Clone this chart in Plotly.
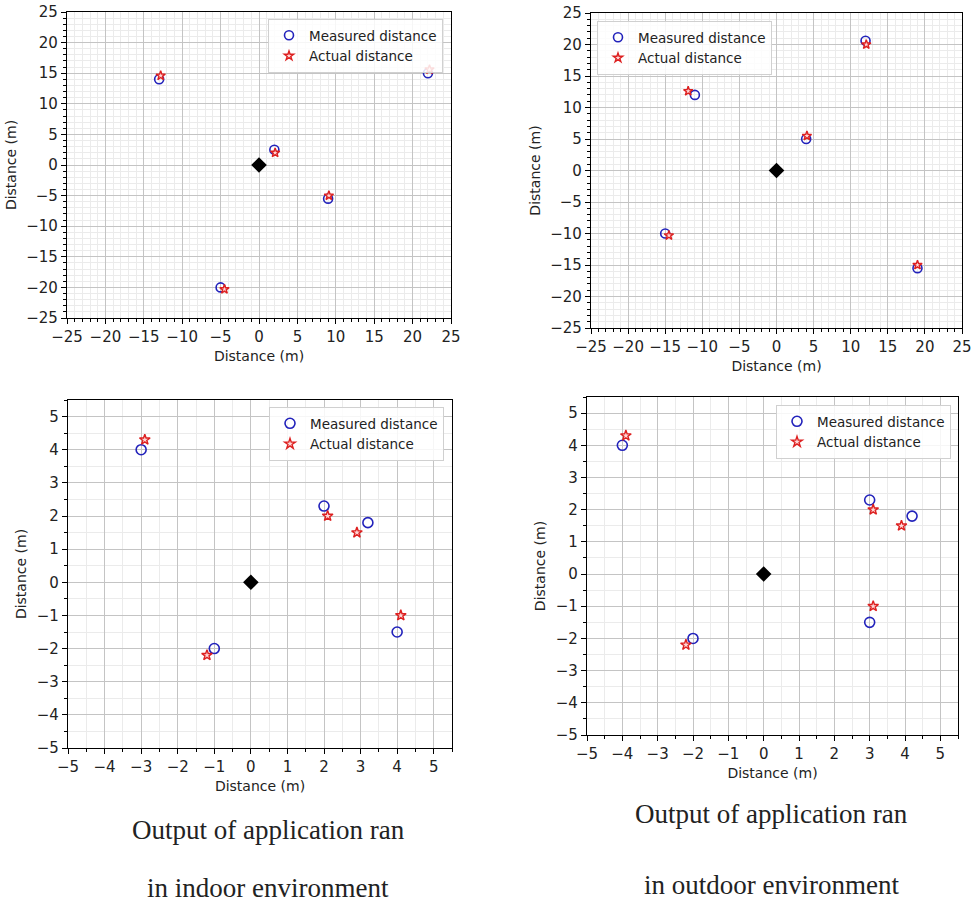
import plotly.graph_objects as go

# ---- data: measured vs actual positions (metres), reference node at origin ----
# indoor, large range
in_big_meas_x = [-13, 2, 22, 9, -5]
in_big_meas_y = [14, 2.5, 15, -5.5, -20]
in_big_act_x = [-12.8, 2.1, 22.2, 9.1, -4.5]
in_big_act_y = [14.6, 2.0, 15.6, -5.0, -20.3]

# outdoor, large range
out_big_meas_x = [-11, 12, 4, -15, 19]
out_big_meas_y = [12, 20.6, 5, -10, -15.5]
out_big_act_x = [-11.9, 12.1, 4.1, -14.5, 19.0]
out_big_act_y = [12.6, 20.0, 5.5, -10.3, -15.0]

# indoor, short range
in_small_meas_x = [-3, 2, 3.2, 4, -1]
in_small_meas_y = [4, 2.3, 1.8, -1.5, -2]
in_small_act_x = [-2.9, 2.1, 2.9, 4.1, -1.2]
in_small_act_y = [4.3, 2.0, 1.5, -1.0, -2.2]

# outdoor, short range
out_small_meas_x = [-4, 3, 4.2, 3, -2]
out_small_meas_y = [4, 2.3, 1.8, -1.5, -2]
out_small_act_x = [-3.9, 3.1, 3.9, 3.1, -2.2]
out_small_act_y = [4.3, 2.0, 1.5, -1.0, -2.2]

origin_x = [0]
origin_y = [0]

big_ticks = [-25, -20, -15, -10, -5, 0, 5, 10, 15, 20, 25]
small_ticks = [-5, -4, -3, -2, -1, 0, 1, 2, 3, 4, 5]

caption_left = ["Output of application ran", "in indoor environment"]
caption_right = ["Output of application ran", "in outdoor environment"]

W, H = 972, 910
BLUE = "#2222bb"
RED = "#dd2020"
FONT = "DejaVu Sans"

# pixel boxes of each plotting area: (left, right, top, bottom)
panels = [
    dict(box=(67, 451, 12, 318), ticks=big_ticks, rng=(-25, 25), minor=1,
         meas=(in_big_meas_x, in_big_meas_y), act=(in_big_act_x, in_big_act_y),
         leg=dict(x=443, y=19, xanchor="right")),
    dict(box=(591, 962, 13, 328), ticks=big_ticks, rng=(-25, 25), minor=1,
         meas=(out_big_meas_x, out_big_meas_y), act=(out_big_act_x, out_big_act_y),
         leg=dict(x=597, y=21, xanchor="left")),
    dict(box=(68, 452, 400, 748), ticks=small_ticks, rng=(-5, 5.5), minor=0.5,
         meas=(in_small_meas_x, in_small_meas_y), act=(in_small_act_x, in_small_act_y),
         leg=dict(x=444, y=407, xanchor="right")),
    dict(box=(587, 958, 397, 735), ticks=small_ticks, rng=(-5, 5.5), minor=0.5,
         meas=(out_small_meas_x, out_small_meas_y), act=(out_small_act_x, out_small_act_y),
         leg=dict(x=951, y=405, xanchor="right")),
]

fig = go.Figure()
layout = {}

for i, p in enumerate(panels):
    n = "" if i == 0 else str(i + 1)
    xa, ya = "x" + n, "y" + n
    lg = "legend" + n
    l, r, t, b = p["box"]

    def axis(dom, anchor):
        return dict(
            domain=dom, anchor=anchor, range=list(p["rng"]),
            tickmode="array", tickvals=p["ticks"],
            ticktext=[str(v).replace("-", "\u2212") for v in p["ticks"]],
            ticks="outside", ticklen=5, tickwidth=1, tickcolor="#000",
            showline=True, linecolor="#000", linewidth=1.2, mirror=True,
            showgrid=True, gridcolor="#c4c4c4", gridwidth=1,
            zeroline=False,
            minor=dict(dtick=p["minor"], tick0=0, ticks="outside", ticklen=3,
                       tickcolor="#000", showgrid=True, gridcolor="#ebebeb",
                       gridwidth=1),
            tickfont=dict(family=FONT, size=15, color="#222"),
            title=dict(text="Distance (m)", standoff=6,
                       font=dict(family=FONT, size=14, color="#222")),
            automargin=False,
        )

    layout["xaxis" + n] = axis([l / W, r / W], ya)
    layout["yaxis" + n] = axis([1 - b / H, 1 - t / H], xa)

    ms = 9 if i < 2 else 10
    fig.add_trace(go.Scatter(
        x=p["meas"][0], y=p["meas"][1], mode="markers", name="Measured distance",
        xaxis=xa, yaxis=ya, legend=lg, cliponaxis=False,
        marker=dict(symbol="circle-open", size=ms, color=BLUE,
                    line=dict(width=1.6, color=BLUE))))
    fig.add_trace(go.Scatter(
        x=p["act"][0], y=p["act"][1], mode="markers", name="Actual distance",
        xaxis=xa, yaxis=ya, legend=lg, cliponaxis=False,
        marker=dict(symbol="star", size=ms - 2, color="#ffd6d6",
                    line=dict(width=1.4, color=RED))))
    fig.add_trace(go.Scatter(
        x=origin_x, y=origin_y, mode="markers", showlegend=False,
        xaxis=xa, yaxis=ya, legend=lg,
        marker=dict(symbol="diamond", size=12, color="#000")))

    lp = p["leg"]
    layout[lg] = dict(
        x=lp["x"] / W, y=1 - lp["y"] / H, xanchor=lp["xanchor"], yanchor="top",
        bgcolor="rgba(255,255,255,0.85)", bordercolor="#d0d0d0", borderwidth=1,
        font=dict(family=FONT, size=13.5, color="#222"),
        tracegroupgap=0,
    )

annotations = []
for cx, lines, ys in [(268, caption_left, (830, 888)), (771, caption_right, (814, 885))]:
    for txt, yy in zip(lines, ys):
        annotations.append(dict(
            text=txt, x=cx / W, y=1 - yy / H, xref="paper", yref="paper",
            xanchor="center", yanchor="middle", showarrow=False,
            font=dict(family="Liberation Serif", size=27, color="#222")))

fig.update_layout(
    width=W, height=H, margin=dict(l=0, r=0, t=0, b=0),
    paper_bgcolor="white", plot_bgcolor="white",
    annotations=annotations, **layout,
)

fig.write_html("out.html")
